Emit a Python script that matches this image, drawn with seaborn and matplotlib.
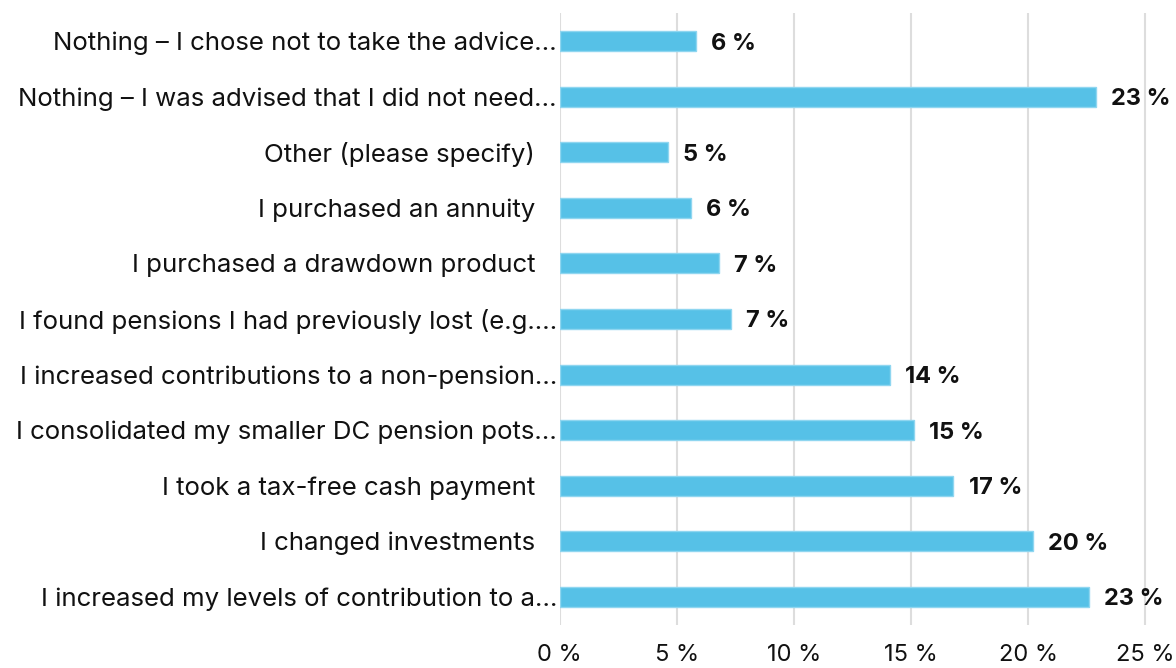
import pandas as pd
import matplotlib.pyplot as plt
import seaborn as sns

# Survey answers (top to bottom) and share of respondents in %
answers = [
    'Nothing \u2013 I chose not to take the advice\u2026',
    'Nothing \u2013 I was advised that I did not need\u2026',
    'Other (please specify)   ',
    'I purchased an annuity   ',
    'I purchased a drawdown product   ',
    'I found pensions I had previously lost (e.g.\u2026',
    'I increased contributions to a non-pension\u2026',
    'I consolidated my smaller DC pension pots\u2026',
    'I took a tax-free cash payment   ',
    'I changed investments   ',
    'I increased my levels of contribution to a\u2026',
]
shares = [5.8, 22.9, 4.6, 5.6, 6.8, 7.3, 14.1, 15.1, 16.8, 20.2, 22.6]
ticks = [0, 5, 10, 15, 20, 25]

df = pd.DataFrame({'answer': answers, 'share': shares})

sns.set_style('white')
plt.rcParams['font.family'] = ['Inter', 'DejaVu Sans']

fig = plt.figure(figsize=(11.76, 6.68), dpi=100)
ax = fig.add_axes([0.476, 0.065, 0.502, 0.915])

sns.barplot(data=df, x='share', y='answer', orient='h', color='#56C1E7',
            width=0.36, edgecolor='#8fd6f0', linewidth=1, saturation=1, ax=ax)

ax.set_xlim(0, 25.2)
ax.set_xticks(ticks)
ax.set_xticklabels([f'{t} %' for t in ticks])
ax.grid(axis='x', color='#dddddd', linewidth=1.5)
ax.set_axisbelow(True)
for s in ax.spines.values():
    s.set_visible(False)
ax.tick_params(axis='y', length=0, labelsize=18.6, colors='#111111', pad=2)
ax.tick_params(axis='x', length=0, labelsize=17, colors='#111111', pad=14)
ax.set_xlabel('')
ax.set_ylabel('')

for i, v in enumerate(shares):
    ax.text(v + 0.65, i, f'{round(v)} %', va='center_baseline', ha='left',
            fontsize=17, fontweight='bold', color='#111111')

fig.savefig('out.png', dpi=100)
